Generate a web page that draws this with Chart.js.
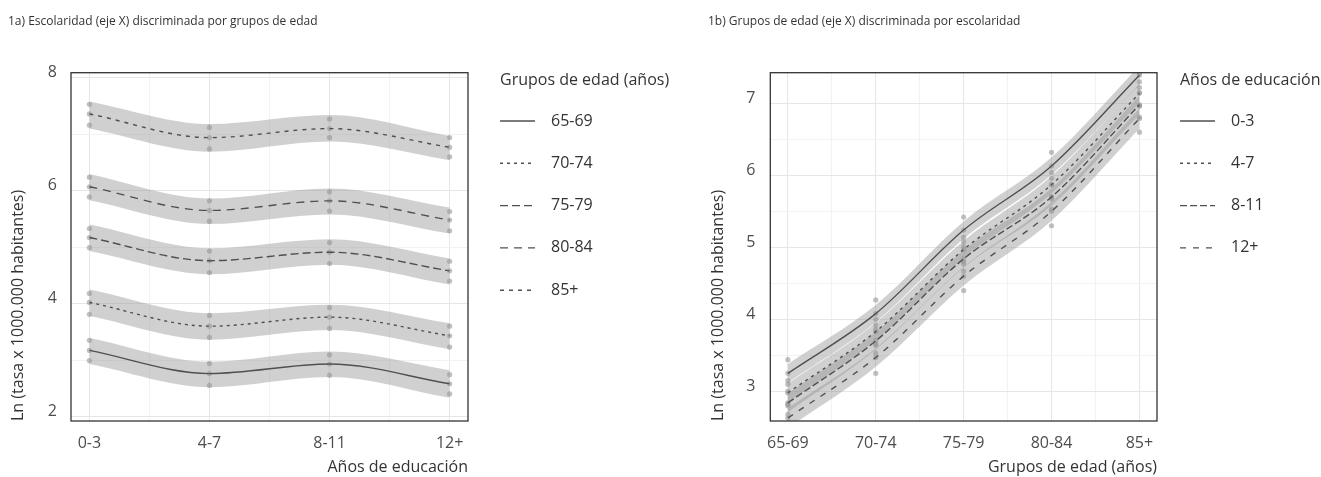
<!DOCTYPE html>
<html>
<head>
<meta charset="utf-8">
<script src="https://cdn.jsdelivr.net/npm/chart.js@4.4.0/dist/chart.umd.min.js"></script>
<style>
  body { margin: 0; background: #fff; }
  .panel { position: absolute; top: 0; height: 477px; }
  #p1 { left: 0; width: 700px; }
  #p2 { left: 700px; width: 621px; }
</style>
</head>
<body>
<div class="panel" id="p1"><canvas id="chartA"></canvas></div>
<div class="panel" id="p2"><canvas id="chartB"></canvas></div>
<script>
// ---- Panel 1a: x = escolaridad, una curva por grupo de edad ----
const educLabels = ['0-3', '4-7', '8-11', '12+'];
const ageLabels = ['65-69', '70-74', '75-79', '80-84', '85+'];

const ageFit = [
    [3.17, 2.76, 2.93, 2.58],
    [4.02, 3.60, 3.76, 3.43],
    [5.17, 4.76, 4.91, 4.58],
    [6.07, 5.65, 5.82, 5.48],
    [7.36, 6.94, 7.10, 6.77]
];
const ageHi = [
    [3.39, 2.97, 3.15, 2.82],
    [4.25, 3.83, 3.98, 3.65],
    [5.40, 4.98, 5.14, 4.80],
    [6.29, 5.86, 6.04, 5.70],
    [7.58, 7.18, 7.34, 6.97]
];
const ageLo = [
    [2.93, 2.52, 2.70, 2.33],
    [3.78, 3.36, 3.53, 3.19],
    [4.93, 4.52, 4.69, 4.34],
    [5.83, 5.41, 5.58, 5.24],
    [7.10, 6.69, 6.87, 6.54]
];
// puntos observados (3 por categoría)
const agePts = [
    [[3.35, 3.17, 2.99], [2.94, 2.76, 2.55], [3.09, 2.93, 2.73], [2.74, 2.58, 2.40]],
    [[4.18, 4.02, 3.81], [3.79, 3.60, 3.40], [3.93, 3.76, 3.56], [3.60, 3.43, 3.23]],
    [[5.33, 5.17, 4.99], [4.93, 4.76, 4.55], [5.08, 4.91, 4.71], [4.75, 4.58, 4.40]],
    [[6.24, 6.07, 5.89], [5.82, 5.65, 5.46], [5.98, 5.82, 5.64], [5.63, 5.48, 5.29]],
    [[7.53, 7.36, 7.16], [7.12, 6.94, 6.74], [7.27, 7.10, 6.94], [6.94, 6.77, 6.60]]
];
const ageDash = [[], [3, 4], [8, 4], [8, 6], [4, 5]];
const yTicksA = [2, 3, 4, 5, 6, 7, 8];

// ---- Panel 1b: x = grupos de edad, una curva por escolaridad ----
const eduFit = [
    [3.25, 4.08, 5.24, 6.13, 7.39],
    [2.98, 3.83, 4.97, 5.87, 7.14],
    [2.84, 3.70, 4.84, 5.70, 6.98],
    [2.63, 3.47, 4.60, 5.50, 6.79]
];
const eduHi = [
    [3.38, 4.20, 5.36, 6.25, 7.52],
    [3.11, 3.95, 5.09, 5.99, 7.27],
    [2.97, 3.82, 4.96, 5.82, 7.11],
    [2.77, 3.60, 4.73, 5.63, 6.93]
];
const eduLo = [
    [3.12, 3.96, 5.12, 6.01, 7.26],
    [2.85, 3.71, 4.85, 5.75, 7.01],
    [2.71, 3.58, 4.72, 5.58, 6.85],
    [2.49, 3.34, 4.47, 5.37, 6.65]
];
const eduPts = [
    [[3.44, 3.25, 3.10], [4.27, 4.08, 3.92], [5.42, 5.24, 5.08], [6.32, 6.13, 5.96], [7.42, 7.39, 7.22]],
    [[3.15, 2.98, 2.82], [4.00, 3.83, 3.66], [5.14, 4.97, 4.80], [6.04, 5.87, 5.70], [7.30, 7.14, 6.97]],
    [[3.00, 2.84, 2.68], [3.86, 3.70, 3.53], [5.01, 4.84, 4.67], [5.87, 5.70, 5.53], [7.15, 6.98, 6.81]],
    [[2.80, 2.63, 2.47], [3.64, 3.47, 3.25], [4.77, 4.60, 4.40], [5.67, 5.50, 5.30], [6.96, 6.79, 6.60]]
];
const eduDash = [[], [3, 4], [7, 3], [6, 7]];
const yTicksB = [3, 3.5, 4, 4.5, 5, 5.5, 6, 6.5, 7];

Chart.defaults.font.family = "'Open Sans', sans-serif";
Chart.defaults.color = '#4d4d4d';

const lineColor = '#505050';
const bandColor = 'rgba(150,150,150,0.45)';
const pointColor = 'rgba(150,150,150,0.6)';

function buildDatasets(names, fit, hi, lo, pts, dash) {
    const out = [];
    names.forEach((name, g) => {
        const xs = fit[g].map((v, i) => i);
        out.push({
            type: 'line', label: name + ' sup',
            data: xs.map(i => ({ x: i, y: hi[g][i] })),
            fill: '+1', backgroundColor: bandColor, borderWidth: 0,
            pointRadius: 0, cubicInterpolationMode: 'monotone', order: 3
        });
        out.push({
            type: 'line', label: name + ' inf',
            data: xs.map(i => ({ x: i, y: lo[g][i] })),
            fill: false, borderWidth: 0, pointRadius: 0,
            cubicInterpolationMode: 'monotone', order: 3
        });
        const p = [];
        pts[g].forEach((vals, i) => vals.forEach(v => p.push({ x: i, y: v })));
        out.push({
            type: 'scatter', label: name + ' obs', data: p,
            pointRadius: 2.6, backgroundColor: pointColor, borderWidth: 0, order: 2
        });
        out.push({
            type: 'line', label: name, isFit: true,
            data: xs.map(i => ({ x: i, y: fit[g][i] })),
            borderColor: lineColor, borderWidth: 1.4, borderDash: dash[g],
            pointRadius: 0, fill: false, cubicInterpolationMode: 'monotone', order: 1
        });
    });
    return out;
}

// marco del panel
const frame = {
    id: 'frame',
    afterDraw(chart) {
        const a = chart.chartArea, ctx = chart.ctx;
        ctx.save();
        ctx.strokeStyle = '#333';
        ctx.lineWidth = 1.3;
        ctx.strokeRect(a.left, a.top, a.right - a.left, a.bottom - a.top);
        ctx.restore();
    }
};

// leyenda a la derecha
const sideLegend = {
    id: 'sideLegend',
    afterDraw(chart, args, opts) {
        const ctx = chart.ctx;
        ctx.save();
        ctx.font = "16px 'Open Sans', sans-serif";
        ctx.fillStyle = '#333';
        ctx.textBaseline = 'middle';
        ctx.fillText(opts.title, opts.x, opts.titleY);
        chart.data.datasets.filter(d => d.isFit).forEach((d, i) => {
            const y = opts.firstY + i * opts.step;
            ctx.strokeStyle = d.borderColor;
            ctx.lineWidth = d.borderWidth;
            ctx.setLineDash(d.borderDash);
            ctx.beginPath();
            ctx.moveTo(opts.x, y);
            ctx.lineTo(opts.x + 35, y);
            ctx.stroke();
            ctx.setLineDash([]);
            ctx.fillText(d.label, opts.x + 51, y);
        });
        ctx.restore();
    }
};

function makeOptions(cfg) {
    return {
        responsive: true,
        maintainAspectRatio: false,
        animation: false,
        layout: { padding: { left: 8, right: cfg.padRight, top: 0, bottom: 0 } },
        plugins: {
            legend: { display: false },
            tooltip: { enabled: false },
            title: {
                display: true, text: cfg.title, align: 'start', color: '#333',
                font: { size: 12, weight: 'normal' },
                padding: { top: 14, bottom: 44.3 }
            },
            sideLegend: cfg.legend
        },
        scales: {
            x: {
                type: 'linear', min: cfg.xMin, max: cfg.xMax,
                afterBuildTicks: s => { s.ticks = cfg.xGrid.map(v => ({ value: v })); },
                afterFit: s => { s.height = 56; },
                ticks: {
                    autoSkip: false, maxRotation: 0, padding: 13,
                    font: { size: 16 },
                    callback: v => Number.isInteger(v) ? cfg.xLabels[v] : ''
                },
                grid: {
                    drawTicks: false,
                    color: c => Number.isInteger(c.tick.value) ? '#e6e6e6' : '#f2f2f2'
                },
                border: { display: false },
                title: {
                    display: true, text: cfg.xTitle, align: 'end', color: '#333',
                    font: { size: 16 }, padding: { top: 0, bottom: 0 }
                }
            },
            y: {
                type: 'linear', min: cfg.yMin, max: cfg.yMax,
                afterBuildTicks: s => { s.ticks = cfg.yTicks.map(v => ({ value: v })); },
                afterFit: s => { s.width = cfg.yWidth; },
                ticks: {
                    padding: cfg.yPad, labelOffset: -5, font: { size: 16 },
                    callback: v => cfg.yMajor(v) ? String(v) : ''
                },
                grid: {
                    drawTicks: false,
                    color: c => cfg.yMajor(c.tick.value) ? '#e6e6e6' : '#f2f2f2'
                },
                border: { display: false },
                title: {
                    display: true, text: 'Ln (tasa x 1000.000 habitantes)', align: 'start',
                    color: '#333', font: { size: 16 }, padding: { top: 1, bottom: 0 }
                }
            }
        }
    };
}

new Chart(document.getElementById('chartA'), {
    type: 'line',
    data: { datasets: buildDatasets(ageLabels, ageFit, ageHi, ageLo, agePts, ageDash) },
    options: makeOptions({
        title: '1a) Escolaridad (eje X) discriminada por grupos de edad',
        padRight: 232,
        xMin: -0.153, xMax: 3.153, xGrid: [0, 0.5, 1, 1.5, 2, 2.5, 3],
        xLabels: educLabels, xTitle: 'Años de educación',
        yMin: 1.92, yMax: 8.09, yTicks: yTicksA, yWidth: 63, yPad: 14,
        yMajor: v => v % 2 === 0,
        legend: { title: 'Grupos de edad (años)', x: 500, titleY: 80, firstY: 121, step: 42.3 }
    }),
    plugins: [frame, sideLegend]
});

new Chart(document.getElementById('chartB'), {
    type: 'line',
    data: { datasets: buildDatasets(educLabels, eduFit, eduHi, eduLo, eduPts, eduDash) },
    options: makeOptions({
        title: '1b) Grupos de edad (eje X) discriminada por escolaridad',
        padRight: 164,
        xMin: -0.2, xMax: 4.2, xGrid: [0, 0.5, 1, 1.5, 2, 2.5, 3, 3.5, 4],
        xLabels: ageLabels, xTitle: 'Grupos de edad (años)',
        yMin: 2.588, yMax: 7.426, yTicks: yTicksB, yWidth: 62.3, yPad: 15,
        yMajor: v => Number.isInteger(v),
        legend: { title: 'Años de educación', x: 480, titleY: 80, firstY: 121, step: 42.3 }
    }),
    plugins: [frame, sideLegend]
});
</script>
</body>
</html>
